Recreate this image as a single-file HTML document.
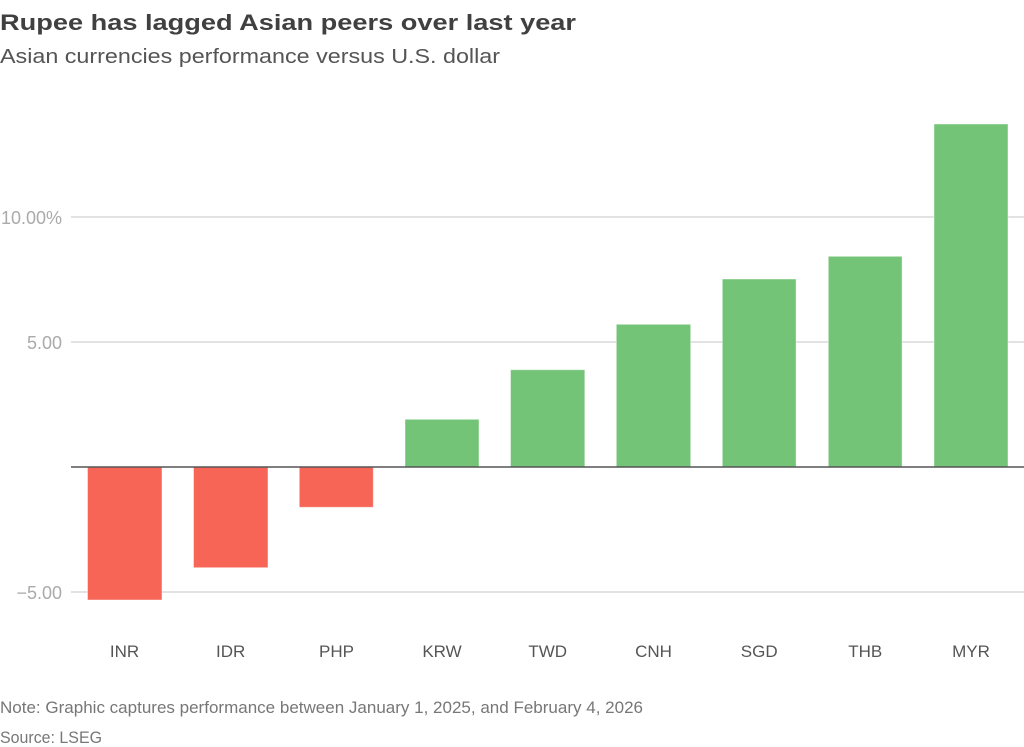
<!DOCTYPE html>
<html>
<head>
<meta charset="utf-8">
<style>
  html, body { margin:0; padding:0; background:#fff; }
  svg { display:block; }
  text { font-family: "Liberation Sans", sans-serif; }
</style>
</head>
<body>
<svg width="1024" height="747" viewBox="0 0 1024 747" xmlns="http://www.w3.org/2000/svg">
  <rect x="0" y="0" width="1024" height="747" fill="#fff"/>

  <!-- Title & subtitle -->
  <text x="0" y="30" font-size="22" font-weight="bold" fill="#404040" textLength="576" lengthAdjust="spacingAndGlyphs">Rupee has lagged Asian peers over last year</text>
  <text x="0" y="63" font-size="20" fill="#555" textLength="500" lengthAdjust="spacingAndGlyphs">Asian currencies performance versus U.S. dollar</text>

  <!-- Gridlines -->
  <g stroke="#d0d0d0" stroke-width="1.2">
    <line x1="71" y1="217" x2="1024" y2="217"/>
    <line x1="71" y1="342" x2="1024" y2="342"/>
    <line x1="71" y1="592" x2="1024" y2="592"/>
  </g>

  <!-- Y labels -->
  <g font-size="18" fill="#aaaaaa" text-anchor="end">
    <text x="62" y="224">10.00%</text>
    <text x="62" y="349">5.00</text>
    <text x="62" y="599">−5.00</text>
  </g>

  <!-- Bars -->
  <g stroke="rgba(255,255,255,0.45)" stroke-width="1">
    <rect x="87.5" y="467" width="74.5" height="133" fill="#f66555"/>
    <rect x="193.5" y="467" width="74.5" height="100.7" fill="#f66555"/>
    <rect x="299.3" y="467" width="74" height="40.3" fill="#f66555"/>
    <rect x="405" y="419.3" width="74" height="47.7" fill="#73c476"/>
    <rect x="510.5" y="369.7" width="74.3" height="97.3" fill="#73c476"/>
    <rect x="616.3" y="324.3" width="74.4" height="142.7" fill="#73c476"/>
    <rect x="722.3" y="279" width="73.8" height="188" fill="#73c476"/>
    <rect x="828.3" y="256.3" width="73.8" height="210.7" fill="#73c476"/>
    <rect x="934" y="124" width="74" height="343" fill="#73c476"/>
  </g>

  <!-- Zero line -->
  <line x1="71" y1="467" x2="1024" y2="467" stroke="#555" stroke-width="1.6"/>

  <!-- X labels -->
  <g font-size="17" fill="#555" text-anchor="middle">
    <text x="124.5" y="657">INR</text>
    <text x="230.7" y="657">IDR</text>
    <text x="336.5" y="657">PHP</text>
    <text x="442" y="657">KRW</text>
    <text x="547.7" y="657">TWD</text>
    <text x="653.5" y="657">CNH</text>
    <text x="759.2" y="657">SGD</text>
    <text x="865.2" y="657">THB</text>
    <text x="971" y="657">MYR</text>
  </g>

  <!-- Footer -->
  <text x="0" y="713" font-size="17" fill="#777" textLength="643" lengthAdjust="spacingAndGlyphs">Note: Graphic captures performance between January 1, 2025, and February 4, 2026</text>
  <text x="0" y="743" font-size="17" fill="#777" textLength="102" lengthAdjust="spacingAndGlyphs">Source: LSEG</text>
</svg>
</body>
</html>
